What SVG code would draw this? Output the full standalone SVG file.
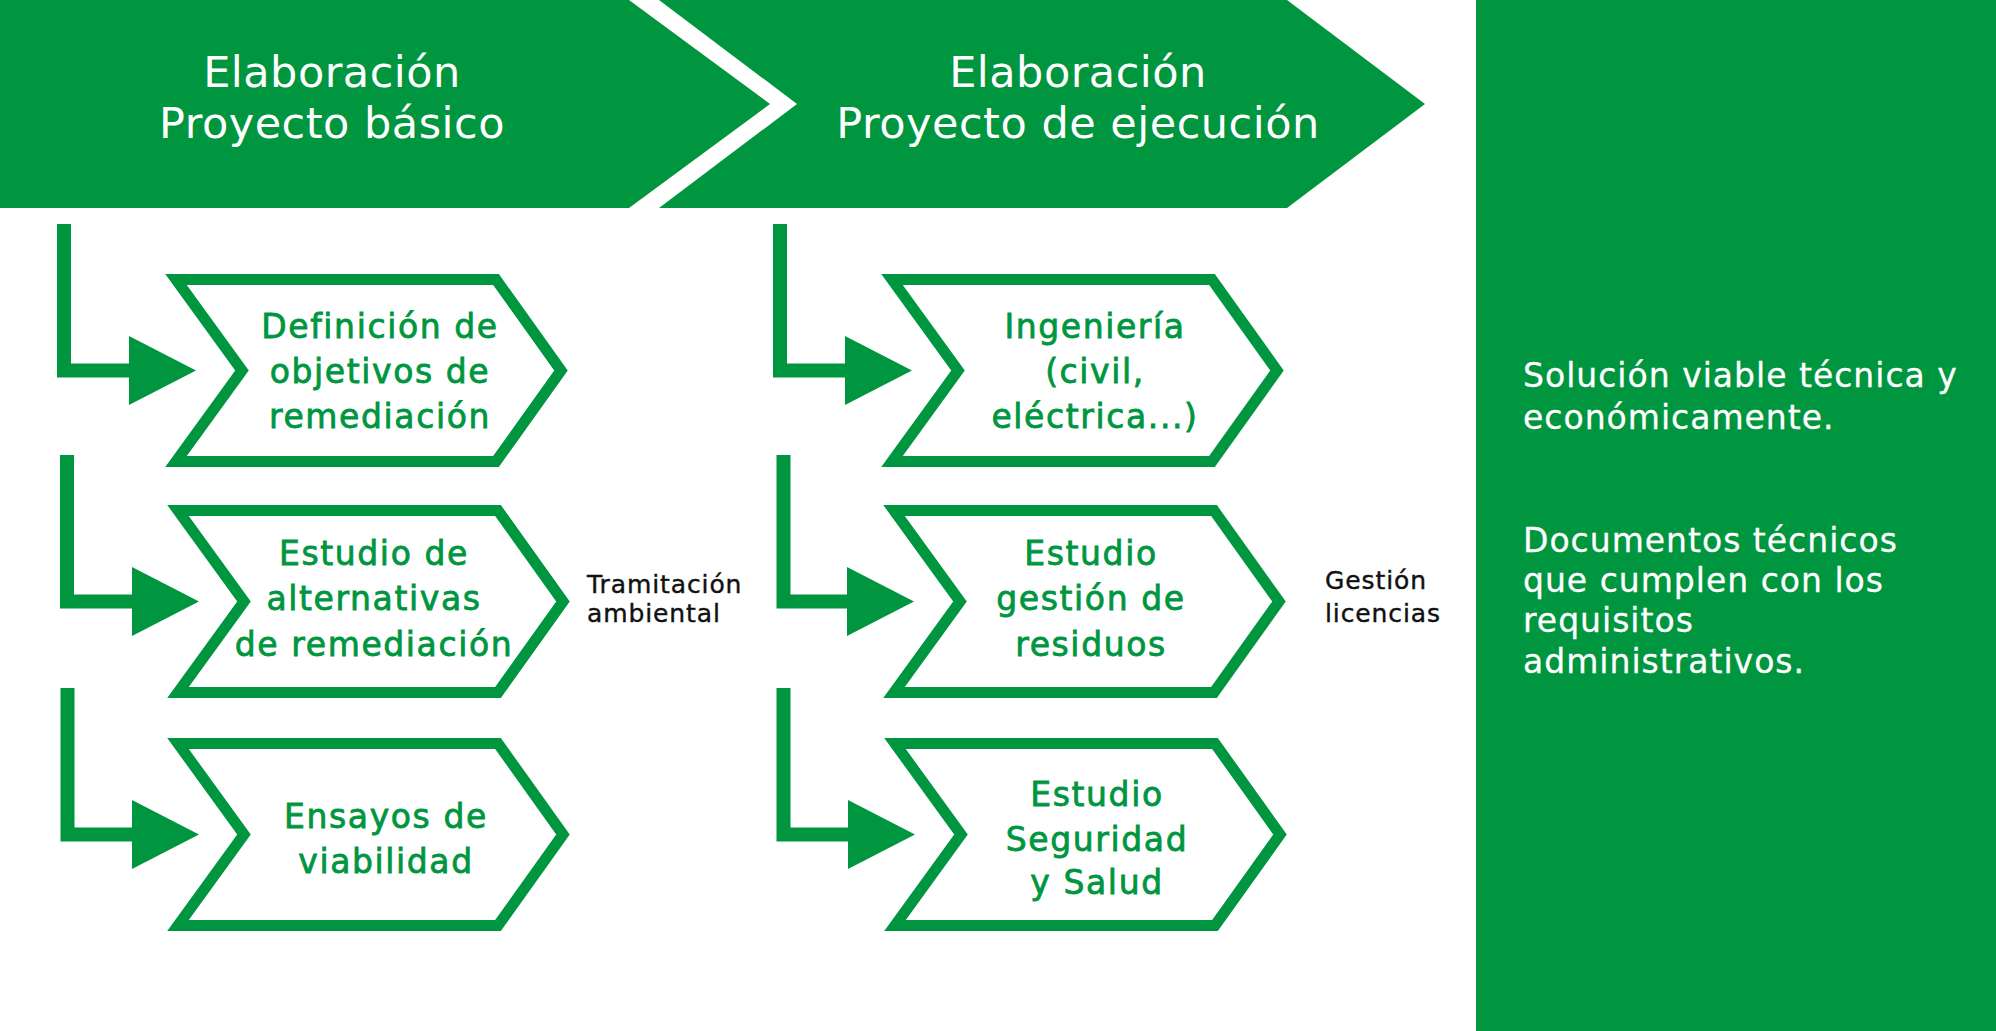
<svg xmlns="http://www.w3.org/2000/svg" width="1996" height="1031" viewBox="0 0 1996 1031">
<style>
.bg{fill:#ffffff}
.head{fill:#00963f}
.box{fill:#ffffff;stroke:#00963f;stroke-width:11;stroke-linejoin:miter;stroke-miterlimit:10}
.conn{fill:none;stroke:#00963f;stroke-width:14;stroke-linejoin:miter;stroke-linecap:butt}
.ht{font-family:"DejaVu Sans","Liberation Sans",sans-serif;font-size:43px;fill:#ffffff;text-anchor:middle;letter-spacing:0.5px}
.bt{font-family:"DejaVu Sans","Liberation Sans",sans-serif;font-size:33px;fill:#00963f;stroke:#00963f;stroke-width:0.8px;text-anchor:middle;letter-spacing:1.6px}
.lt{font-family:"DejaVu Sans","Liberation Sans",sans-serif;font-size:25px;fill:#111111;stroke:#111111;stroke-width:0.4px;letter-spacing:0.9px}
.pt{font-family:"DejaVu Sans","Liberation Sans",sans-serif;font-size:33px;fill:#ffffff;stroke:#ffffff;stroke-width:0.3px;letter-spacing:1px}
</style>
<defs>
<marker id="arr" viewBox="0 0 67 69" markerWidth="67" markerHeight="69" refX="2" refY="34.5" orient="auto" markerUnits="userSpaceOnUse">
<path d="M0,0 L67,34.5 L0,69 Z" fill="#00963f"/>
</marker>
</defs>
<rect class="bg" x="0" y="0" width="1996" height="1031"/>

<g id="phase1">
<polygon class="head" points="0,0 629,0 770,104 629,208 0,208"/>
<text class="ht" x="332" y="87">Elaboración</text>
<text class="ht" x="332" y="138">Proyecto básico</text>
</g>

<g id="phase2">
<polygon class="head" points="659,0 1287,0 1425,104 1287,208 659,208 797,104"/>
<text class="ht" x="1078" y="87">Elaboración</text>
<text class="ht" x="1078" y="138">Proyecto de ejecución</text>
</g>

<g id="result">
<rect class="head" x="1476" y="0" width="520" height="1031"/>
<text class="pt" x="1523" y="387">Solución viable técnica y</text>
<text class="pt" x="1523" y="429">económicamente.</text>
<text class="pt" x="1523" y="552">Documentos técnicos</text>
<text class="pt" x="1523" y="592">que cumplen con los</text>
<text class="pt" x="1523" y="632">requisitos</text>
<text class="pt" x="1523" y="673">administrativos.</text>
</g>

<g id="connectors">
<path class="conn" d="M64,224 V370.5 H131" marker-end="url(#arr)"/>
<path class="conn" d="M67,455 V601.5 H134" marker-end="url(#arr)"/>
<path class="conn" d="M67.5,688 V834.5 H134" marker-end="url(#arr)"/>
<path class="conn" d="M780,224 V370.5 H847" marker-end="url(#arr)"/>
<path class="conn" d="M783.5,455 V601.5 H849" marker-end="url(#arr)"/>
<path class="conn" d="M783.5,688 V834.5 H850" marker-end="url(#arr)"/>
</g>

<g id="definicion">
<polygon class="box" points="176,279.5 496,279.5 561,370.5 496,461.5 176,461.5 242,370.5"/>
<text class="bt" x="380" y="338">Definición de</text>
<text class="bt" x="380" y="383">objetivos de</text>
<text class="bt" x="380" y="428">remediación</text>
</g>

<g id="alternativas">
<polygon class="box" points="178,510.5 498,510.5 563,601.5 498,692.5 178,692.5 244,601.5"/>
<text class="bt" x="374" y="565">Estudio de</text>
<text class="bt" x="374" y="610">alternativas</text>
<text class="bt" x="374" y="656">de remediación</text>
</g>

<g id="ensayos">
<polygon class="box" points="178,743.5 498,743.5 563,834.5 498,925.5 178,925.5 244,834.5"/>
<text class="bt" x="386" y="828">Ensayos de</text>
<text class="bt" x="386" y="873">viabilidad</text>
</g>

<g id="ingenieria">
<polygon class="box" points="892,279.5 1212,279.5 1277,370.5 1212,461.5 892,461.5 958,370.5"/>
<text class="bt" x="1095" y="338">Ingeniería</text>
<text class="bt" x="1095" y="383">(civil,</text>
<text class="bt" x="1095" y="428">eléctrica...)</text>
</g>

<g id="residuos">
<polygon class="box" points="894,510.5 1214,510.5 1279,601.5 1214,692.5 894,692.5 960,601.5"/>
<text class="bt" x="1091" y="565">Estudio</text>
<text class="bt" x="1091" y="610">gestión de</text>
<text class="bt" x="1091" y="656">residuos</text>
</g>

<g id="seguridad">
<polygon class="box" points="895,743.5 1215,743.5 1280,834.5 1215,925.5 895,925.5 961,834.5"/>
<text class="bt" x="1097" y="806">Estudio</text>
<text class="bt" x="1097" y="851">Seguridad</text>
<text class="bt" x="1097" y="894">y Salud</text>
</g>

<g id="tramitacion">
<text class="lt" x="587" y="593">Tramitación</text>
<text class="lt" x="587" y="622">ambiental</text>
</g>

<g id="licencias">
<text class="lt" x="1325" y="589">Gestión</text>
<text class="lt" x="1325" y="622">licencias</text>
</g>
</svg>
